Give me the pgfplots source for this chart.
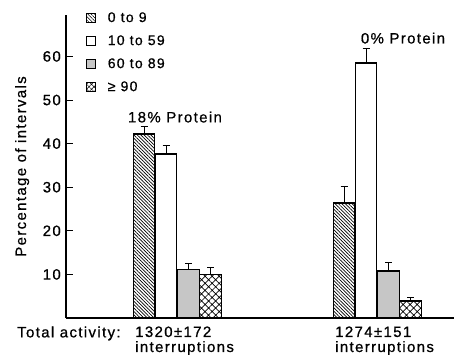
\documentclass[border=0pt]{standalone}
\usepackage{fontspec}
\setmainfont{Liberation Sans}[LetterSpace=9,FakeBold=0.7]
\usepackage{pgfplots}
\pgfplotsset{compat=1.18}
\usetikzlibrary{patterns,patterns.meta}
\begin{document}
\fontsize{15pt}{16pt}\selectfont
\begin{tikzpicture}
\path[use as bounding box] (-66pt,-36pt) rectangle (388pt,318pt);
\begin{axis}[
  at={(0,0)}, anchor=south west,
  scale only axis, width=388pt, height=303pt,
  xmin=66, xmax=454, ymin=0, ymax=69.5,
  axis lines=left, axis line style={-, line width=1.1pt},
  xtick=\empty, ytick={10,20,...,60},
  tick align=inside, major tick length=7pt,
  tick style={line width=1pt, black},
  /pgf/number format/assume math mode=true,
  yticklabel style={font=\fontsize{15pt}{16pt}\selectfont},
  ylabel={Percentage of intervals},
  ylabel style={at={(axis description cs:-0.113,0.5)}, anchor=center, font=\fontsize{15pt}{16pt}\selectfont},
  clip=false,
  legend style={at={(axis cs:86,70.4)}, anchor=north west, draw=none, fill=none,
    font=\fontsize{14pt}{15pt}\selectfont, row sep=9pt, inner sep=0pt,
    nodes={inner sep=1pt}},
  legend cell align=left,
  mybar/.style={ybar, bar width=21.5, bar shift=0pt, draw=black, line width=1.3pt,
    error bars/y dir=plus, error bars/y explicit, error bars/error mark=-,
    error bars/error bar style={line width=0.8pt},
    error bars/error mark options={mark size=3.5pt, line width=0.8pt, rotate=90}},
]
\addlegendimage{legend image code/.code={\draw[draw=black,line width=0.8pt,pattern={Lines[angle=-45,distance=2.4pt,line width=0.5pt]}] (0pt,-4.5pt) rectangle (9pt,4.5pt); \path (20pt,0pt);}}
\addlegendentry{0 to 9}
\addlegendimage{legend image code/.code={\draw[draw=black,line width=0.8pt,fill=white] (0pt,-4.5pt) rectangle (9pt,4.5pt); \path (20pt,0pt);}}
\addlegendentry{10 to 59}
\addlegendimage{legend image code/.code={\draw[draw=black,line width=0.8pt,fill=gray!45] (0pt,-4.5pt) rectangle (9pt,4.5pt); \path (20pt,0pt);}}
\addlegendentry{60 to 89}
\addlegendimage{legend image code/.code={\draw[draw=black,line width=0.8pt,pattern={Hatch[angle=45,distance=3.5pt,line width=0.5pt]}] (0pt,-4.5pt) rectangle (9pt,4.5pt); \path (20pt,0pt);}}
\addlegendentry{≥ 90}

\addplot[mybar, forget plot, pattern={Lines[angle=-45,distance=2.4pt,line width=0.7pt]}]
  coordinates {(144,42.2) +- (0,1.8) (344,26.4) +- (0,3.9)};
\addplot[mybar, forget plot, fill=white]
  coordinates {(166,37.6) +- (0,1.9) (366,58.5) +- (0,3.4)};
\addplot[mybar, forget plot, fill=gray!45]
  coordinates {(188.5,11.2) +- (0,1.4) (388.5,10.8) +- (0,2.0)};
\addplot[mybar, forget plot, pattern={Hatch[angle=45,distance=5pt,line width=0.7pt]}]
  coordinates {(210.5,9.9) +- (0,1.8) (410.5,3.9) +- (0,0.9)};

\node[font=\fontsize{15pt}{16pt}\selectfont] at (axis cs:175,46.1) {18\% Protein};
\node[font=\fontsize{15pt}{16pt}\selectfont] at (axis cs:403,64.2) {0\% Protein};
\node[anchor=north west, inner sep=0pt, font=\fontsize{15pt}{15pt}\selectfont] at (axis cs:17,-1.9) {Total activity:};
\node[anchor=north west, inner sep=0pt, align=left, font=\fontsize{15pt}{15pt}\selectfont] at (axis cs:135,-1.9) {1320±172\\interruptions};
\node[anchor=north west, inner sep=0pt, align=left, font=\fontsize{15pt}{15pt}\selectfont] at (axis cs:335,-1.9) {1274±151\\interruptions};
\end{axis}
\end{tikzpicture}
\end{document}
